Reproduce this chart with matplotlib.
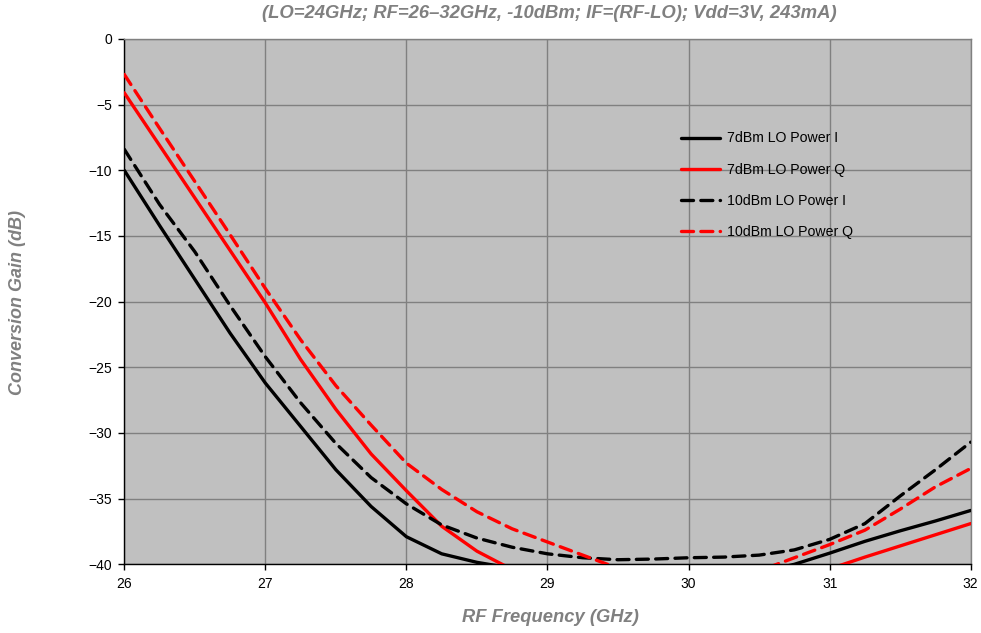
import numpy as np
import matplotlib
matplotlib.use("Agg")
from matplotlib import pyplot as plt

plt.rcParams['font.family'] = ['Liberation Sans', 'DejaVu Sans']

# RF sweep, 0.25 GHz steps
rf_ghz = np.array([26.00, 26.25, 26.50, 26.75, 27.00, 27.25, 27.50, 27.75, 28.00,
                   28.25, 28.50, 28.75, 29.00, 29.25, 29.50, 29.75, 30.00, 30.25,
                   30.50, 30.75, 31.00, 31.25, 31.50, 31.75, 32.00])

# conversion gain (dB)
gain_7dbm_i = np.array([-10.0, -14.2, -18.3, -22.4, -26.2, -29.5, -32.8, -35.6, -37.9,
                        -39.2, -39.85, -40.3, -40.8, -41.2, -41.4, -41.4, -41.3, -41.0,
                        -40.6, -40.0, -39.15, -38.25, -37.45, -36.7, -35.9])
gain_7dbm_q = np.array([-4.1, -8.1, -12.1, -16.1, -20.1, -24.4, -28.2, -31.6, -34.4,
                        -37.1, -39.0, -40.4, -41.5, -42.2, -42.6, -42.7, -42.6, -42.3,
                        -41.7, -41.0, -40.35, -39.45, -38.6, -37.75, -36.9])
gain_10dbm_i = np.array([-8.4, -12.6, -16.2, -20.3, -24.2, -27.7, -30.8, -33.4, -35.4,
                         -37.0, -38.0, -38.7, -39.2, -39.5, -39.65, -39.6, -39.5, -39.45,
                         -39.3, -38.9, -38.1, -36.9, -34.8, -32.8, -30.7])
gain_10dbm_q = np.array([-2.7, -6.8, -10.85, -14.9, -19.0, -22.9, -26.4, -29.4, -32.3,
                         -34.3, -36.0, -37.3, -38.3, -39.3, -40.3, -40.8, -41.0, -40.9,
                         -40.5, -39.5, -38.5, -37.4, -35.8, -34.1, -32.7])

series_labels = ["7dBm LO Power I", "7dBm LO Power Q", "10dBm LO Power I", "10dBm LO Power Q"]

x_ticks = np.arange(26, 33, 1)
y_ticks = np.arange(-40, 1, 5)

fig = plt.figure(figsize=(9.81, 6.33), dpi=100)
ax = fig.add_axes([0.1267, 0.1085, 0.8628, 0.8299])
ax.set_facecolor('#C0C0C0')

dash = (0, (3.6, 2.2))
styles = [('black', '-'), ('red', '-'), ('black', dash), ('red', dash)]
series = [gain_7dbm_i, gain_7dbm_q, gain_10dbm_i, gain_10dbm_q]
for values, label, (color, ls) in zip(series, series_labels, styles):
    ax.plot(rf_ghz, values, color=color, linestyle=ls, linewidth=2.4,
            dash_capstyle='round', solid_capstyle='round', solid_joinstyle='round',
            label=label, zorder=3)

ax.set_xlim(26, 32)
ax.set_ylim(-40, 0)
ax.set_xticks(x_ticks)
ax.set_yticks(y_ticks)
ax.grid(True, color='#808080', linewidth=1.0)
ax.set_axisbelow(True)

for side in ['top', 'right']:
    ax.spines[side].set_color('#808080')
    ax.spines[side].set_linewidth(1.0)
for side in ['left', 'bottom']:
    ax.spines[side].set_color('black')
    ax.spines[side].set_linewidth(1.0)

ax.tick_params(axis='both', direction='out', length=4, width=1, labelsize=10, colors='black')
ax.tick_params(axis='y', pad=5)
ax.tick_params(axis='x', pad=5)

leg = ax.legend(loc='upper left', bbox_to_anchor=(680.7 / 981, 1 - 131.5 / 633),
                bbox_transform=fig.transFigure, frameon=False, fontsize=10.2,
                handlelength=2.8, handletextpad=0.5, labelspacing=1.22,
                borderpad=0, borderaxespad=0)

gray = '#808080'
fig.text(549 / 981, 1 - 14 / 633,
         "(LO=24GHz; RF=26\u201332GHz, -10dBm; IF=(RF-LO); Vdd=3V, 243mA)",
         ha='center', va='center', fontsize=13.3, fontweight='bold', fontstyle='italic', color=gray)
fig.text(550 / 981, 1 - 618 / 633, "RF Frequency (GHz)",
         ha='center', va='center', fontsize=13.2, fontweight='bold', fontstyle='italic', color=gray)
fig.text(18 / 981, 1 - 303 / 633, "Conversion Gain (dB)", rotation=90,
         ha='center', va='center', fontsize=13, fontweight='bold', fontstyle='italic', color=gray)

fig.savefig("out.png", dpi=100)
